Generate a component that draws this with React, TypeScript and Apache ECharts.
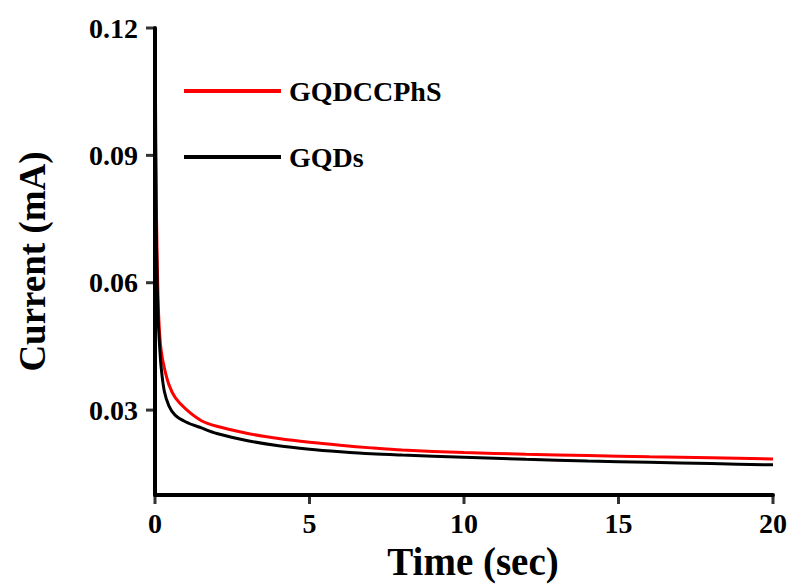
import React, { useEffect, useRef } from "react";
import * as echarts from "echarts";

const time = [0, 0.02, 0.05, 0.1, 0.15, 0.2, 0.3, 0.45, 0.65, 1.0, 1.5, 2, 3, 4, 5, 6, 7, 8, 10, 12, 14, 16, 18, 20];
const gqdccphs = [0.12, 0.1, 0.075, 0.056, 0.048, 0.044, 0.04, 0.036, 0.033, 0.0302, 0.0275, 0.0262, 0.0245, 0.0233, 0.0224, 0.0217, 0.0211, 0.0206, 0.02, 0.0196, 0.0193, 0.019, 0.0188, 0.0185];
const gqds = [0.115, 0.09, 0.068, 0.052, 0.045, 0.04, 0.0345, 0.031, 0.0288, 0.0272, 0.0258, 0.0245, 0.0228, 0.0216, 0.0208, 0.0202, 0.0197, 0.0194, 0.0189, 0.0184, 0.018, 0.0177, 0.0174, 0.0171];
const yTicks = [0.03, 0.06, 0.09, 0.12];
const xTicks = [0, 5, 10, 15, 20];
const seriesNames = ["GQDCCPhS", "GQDs"];
const X_MIN = 0;
const Y_MIN = 0.01;

const FONT = "'Liberation Serif', 'Times New Roman', serif";

export default function App() {
  const ref = useRef<HTMLDivElement>(null);
  useEffect(() => {
    document.body.style.margin = "0";
    if (!ref.current) return;
    const chart = echarts.init(ref.current, undefined, { renderer: "svg" });
    const pairs = (vals: number[]) => time.map((t, i) => [t, vals[i]]);
    chart.setOption({
      animation: false,
      backgroundColor: "#fff",
      grid: { left: 155, right: 20, top: 28, bottom: 91, containLabel: false },
      legend: {
        orient: "vertical",
        left: 184,
        top: 75,
        padding: 0,
        itemWidth: 97,
        itemHeight: 4,
        itemGap: 34,
        icon: "rect",
        data: seriesNames,
        textStyle: {
          fontFamily: FONT,
          fontWeight: "bold",
          fontSize: 28,
          lineHeight: 28,
          color: "#000",
          padding: [4, 0, 0, 3],
        },
      },
      xAxis: {
        type: "value",
        min: X_MIN,
        max: 20,
        interval: 5,
        name: "Time (sec)",
        nameLocation: "middle",
        nameGap: 46,
        nameTextStyle: { fontFamily: FONT, fontWeight: "bold", fontSize: 39, color: "#000", padding: [0, 0, 0, 18] },
        axisLine: { show: true, onZero: false, lineStyle: { color: "#000", width: 4 } },
        axisTick: { show: false },
        axisLabel: { margin: 14, fontFamily: FONT, fontWeight: "bold", fontSize: 28, color: "#000" },
        splitLine: { show: false },
        z: 5,
      },
      yAxis: {
        type: "value",
        min: Y_MIN,
        max: 0.12,
        name: "Current (mA)",
        nameLocation: "middle",
        nameRotate: 90,
        nameGap: 104,
        nameTextStyle: { fontFamily: FONT, fontWeight: "bold", fontSize: 37, color: "#000" },
        axisLine: { show: true, onZero: false, lineStyle: { color: "#000", width: 4 } },
        axisTick: { show: false },
        axisLabel: {
          customValues: yTicks,
          margin: 17,
          fontFamily: FONT,
          fontWeight: "bold",
          fontSize: 28,
          color: "#000",
          formatter: (v: number) => v.toFixed(2),
        },
        splitLine: { show: false },
        z: 5,
      },
      series: [
        {
          name: seriesNames[1],
          type: "line",
          data: pairs(gqds),
          showSymbol: false,
          symbol: "none",
          smooth: 0.3,
          lineStyle: { color: "#000", width: 3 },
          itemStyle: { color: "#000" },
          z: 3,
        },
        {
          name: seriesNames[0],
          type: "line",
          data: pairs(gqdccphs),
          showSymbol: false,
          symbol: "none",
          smooth: 0.3,
          lineStyle: { color: "#ff0000", width: 3 },
          itemStyle: { color: "#ff0000" },
          z: 2,
        },
        {
          name: "xTicks",
          type: "scatter",
          silent: true,
          clip: false,
          data: xTicks.map((t) => [t, Y_MIN]),
          symbol: "rect",
          symbolSize: [3, 8],
          symbolOffset: [0, 5],
          itemStyle: { color: "#000" },
          z: 4,
        },
        {
          name: "yTicks",
          type: "scatter",
          silent: true,
          clip: false,
          data: yTicks.map((v) => [X_MIN, v]),
          symbol: "rect",
          symbolSize: [8, 3],
          symbolOffset: [-5, 0],
          itemStyle: { color: "#000" },
          z: 4,
        },
      ],
    });
    return () => chart.dispose();
  }, []);
  return <div ref={ref} style={{ width: 793, height: 586 }} />;
}
